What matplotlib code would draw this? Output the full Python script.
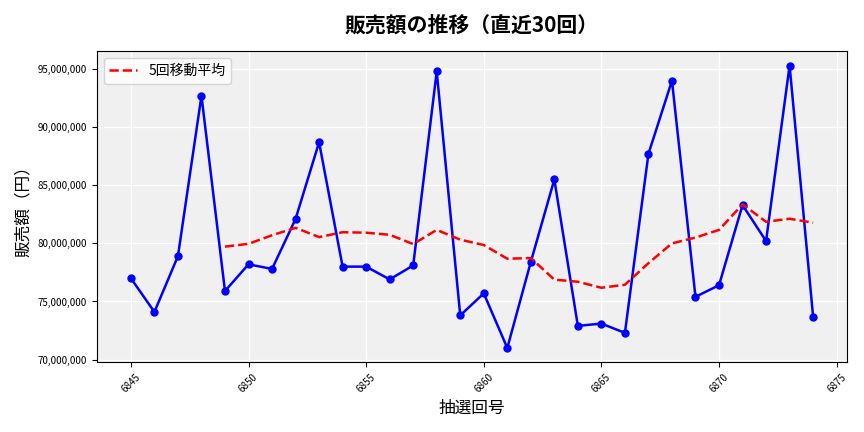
import matplotlib
matplotlib.use("Agg")
import matplotlib.pyplot as plt
import matplotlib.ticker as mt
import pandas as pd

plt.rcParams['font.family'] = ['Noto Sans CJK JP', 'DejaVu Sans']

draws = list(range(6845, 6875))
sales_m = [77.0, 74.1, 78.9, 92.7, 75.9, 78.2, 77.8, 82.1, 88.7, 78.0,
           78.0, 76.9, 78.1, 94.8, 73.8, 75.7, 71.0, 78.4, 85.5, 72.9,
           73.1, 72.3, 87.7, 94.0, 75.4, 76.4, 83.3, 80.2, 95.3, 73.7]
sales = [v * 1e6 for v in sales_m]
ma = pd.Series(sales).rolling(5).mean()

fig, ax = plt.subplots(figsize=(8.64, 4.32), dpi=100)
ax.set_facecolor('#f0f0f0')
ax.grid(True, color='white', linewidth=1)
ax.set_axisbelow(True)
ax.plot(draws, sales, color='blue', marker='o', markersize=5, linewidth=1.8)
ax.plot(draws, ma, color='red', linestyle='--', linewidth=1.8, label='5回移動平均')
ax.set_title('販売額の推移（直近30回）', fontsize=15, fontweight='bold', pad=14)
ax.set_xlabel('抽選回号', fontsize=12)
ax.set_ylabel('販売額（円）', fontsize=12)
ax.yaxis.set_major_formatter(mt.FuncFormatter(lambda v, p: f'{int(v):,}'))
ax.tick_params(axis='both', labelsize=7)
plt.setp(ax.get_xticklabels(), rotation=45)
ax.legend(loc='upper left', fontsize=10)
fig.tight_layout()
fig.savefig('out.png', dpi=100)
